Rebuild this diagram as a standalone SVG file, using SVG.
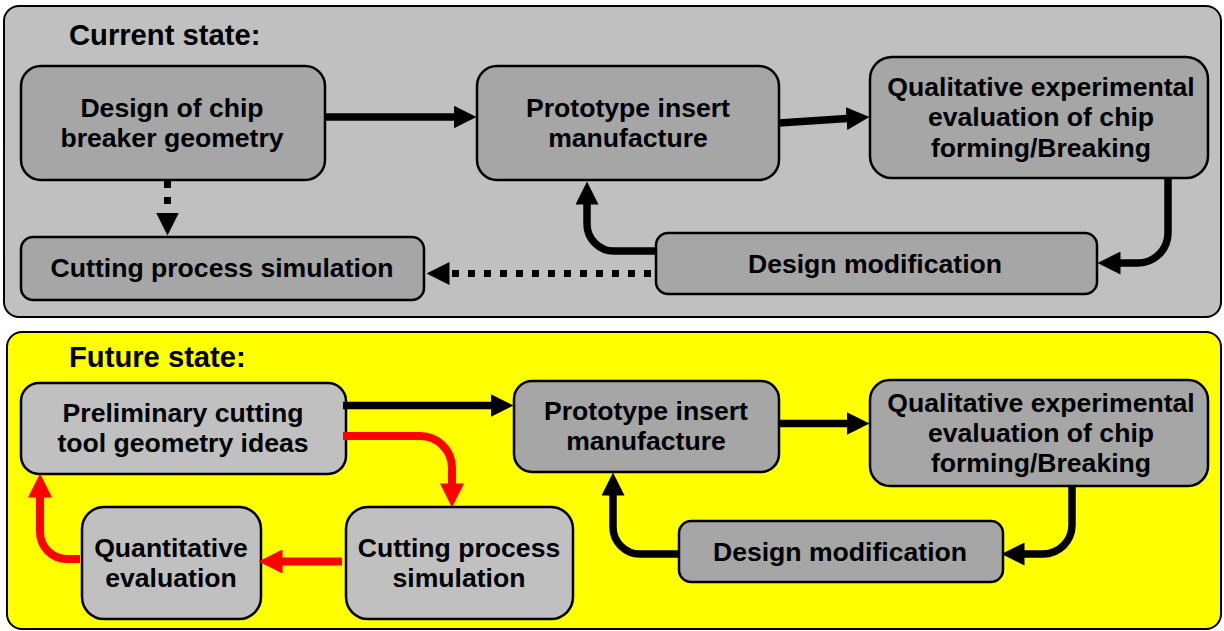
<svg xmlns="http://www.w3.org/2000/svg" width="1224" height="631" viewBox="0 0 1224 631">
<style>
.panel{stroke:#000;stroke-width:2}
.node{stroke:#000;stroke-width:2.5}
.dark{fill:#a6a6a6}
.light{fill:#c0c0c0}
text{font-family:"Liberation Sans",Arial,sans-serif;font-weight:bold;fill:#000}
.t{font-size:26.6px;text-anchor:middle}
.title{font-size:29.2px}
.c{fill:none;stroke:#000;stroke-width:7.5}
.r{fill:none;stroke:#ff0000;stroke-width:8}
.d{fill:none;stroke:#000;stroke-width:7;stroke-dasharray:7 9}
</style>
<defs>
<marker id="ah" viewBox="0 0 23 23" refX="0.5" refY="11.5" markerWidth="23" markerHeight="23" markerUnits="userSpaceOnUse" orient="auto"><path d="M0,0 L23,11.5 L0,23 z" fill="#000"/></marker>
<marker id="ahr" viewBox="0 0 23 23" refX="0.5" refY="11.5" markerWidth="24" markerHeight="24" markerUnits="userSpaceOnUse" orient="auto"><path d="M0,0 L23,11.5 L0,23 z" fill="#ff0000"/></marker>
</defs>
<g id="panel-current">
<rect class="panel" x="4" y="6" width="1217" height="311" rx="15" fill="#c0c0c0"/>
<text class="title" x="69" y="45">Current state:</text>
</g>
<g id="panel-future">
<rect class="panel" x="7" y="332" width="1214" height="297" rx="15" fill="#ffff00"/>
<text class="title" x="69" y="367">Future state:</text>
</g>
<g id="c-design">
<rect class="node dark" x="21" y="66" width="304" height="114" rx="20"/>
<text class="t" x="172" y="117">Design of chip</text>
<text class="t" x="172" y="147">breaker geometry</text>
</g>
<g id="c-proto">
<rect class="node dark" x="477" y="66" width="302" height="114" rx="20"/>
<text class="t" x="628" y="117">Prototype insert</text>
<text class="t" x="628" y="147">manufacture</text>
</g>
<g id="c-qual">
<rect class="node dark" x="870" y="57" width="338" height="121" rx="22"/>
<text class="t" x="1041" y="96">Qualitative experimental</text>
<text class="t" x="1041" y="126">evaluation of chip</text>
<text class="t" x="1041" y="157">forming/Breaking</text>
</g>
<g id="c-sim">
<rect class="node dark" x="21" y="237" width="403" height="63" rx="12"/>
<text class="t" x="222" y="277">Cutting process simulation</text>
</g>
<g id="c-mod">
<rect class="node dark" x="656" y="233" width="441" height="61" rx="12"/>
<text class="t" x="875" y="273">Design modification</text>
</g>
<g id="f-prelim">
<rect class="node light" x="21" y="383" width="325" height="91" rx="18"/>
<text class="t" x="183" y="422">Preliminary cutting</text>
<text class="t" x="183" y="452">tool geometry ideas</text>
</g>
<g id="f-proto">
<rect class="node dark" x="514" y="381" width="265" height="91" rx="18"/>
<text class="t" x="646" y="420">Prototype insert</text>
<text class="t" x="646" y="450">manufacture</text>
</g>
<g id="f-qual">
<rect class="node dark" x="870" y="380" width="338" height="106" rx="20"/>
<text class="t" x="1041" y="412">Qualitative experimental</text>
<text class="t" x="1041" y="442">evaluation of chip</text>
<text class="t" x="1041" y="472">forming/Breaking</text>
</g>
<g id="f-mod">
<rect class="node dark" x="679" y="521" width="324" height="61" rx="12"/>
<text class="t" x="840" y="561">Design modification</text>
</g>
<g id="f-quant">
<rect class="node light" x="82" y="507" width="179" height="112" rx="22"/>
<text class="t" x="171" y="557">Quantitative</text>
<text class="t" x="171" y="587">evaluation</text>
</g>
<g id="f-sim">
<rect class="node light" x="346" y="507" width="227" height="112" rx="22"/>
<text class="t" x="459" y="557">Cutting process</text>
<text class="t" x="459" y="587">simulation</text>
</g>
<g id="connectors">
<path class="c" d="M325,117 H454" marker-end="url(#ah)"/>
<path class="c" d="M779,123 L847,118.5" marker-end="url(#ah)"/>
<path class="d" d="M167.5,181 V213" marker-end="url(#ah)"/>
<path class="c" d="M1168,178 V233 A30 30 0 0 1 1138 263 H1120" marker-end="url(#ah)"/>
<path class="c" d="M656,251 H614 A27 27 0 0 1 587 224 V204" marker-end="url(#ah)"/>
<path class="d" d="M651,273.5 H449" marker-end="url(#ah)"/>
<path class="c" d="M343,405.5 H491" marker-end="url(#ah)"/>
<path class="c" d="M778,423.5 H847" marker-end="url(#ah)"/>
<path class="c" d="M1072,486 V525 A29 29 0 0 1 1043 554 H1024" marker-end="url(#ah)"/>
<path class="c" d="M679,554 H640 A27 27 0 0 1 613 527 V495" marker-end="url(#ah)"/>
<path class="r" d="M343,436 H420 A32 32 0 0 1 452 468 V484" marker-end="url(#ahr)"/>
<path class="r" d="M342,561.5 H282" marker-end="url(#ahr)"/>
<path class="r" d="M80,559 H67 A27 27 0 0 1 40 532 V497" marker-end="url(#ahr)"/>
</g>
</svg>
